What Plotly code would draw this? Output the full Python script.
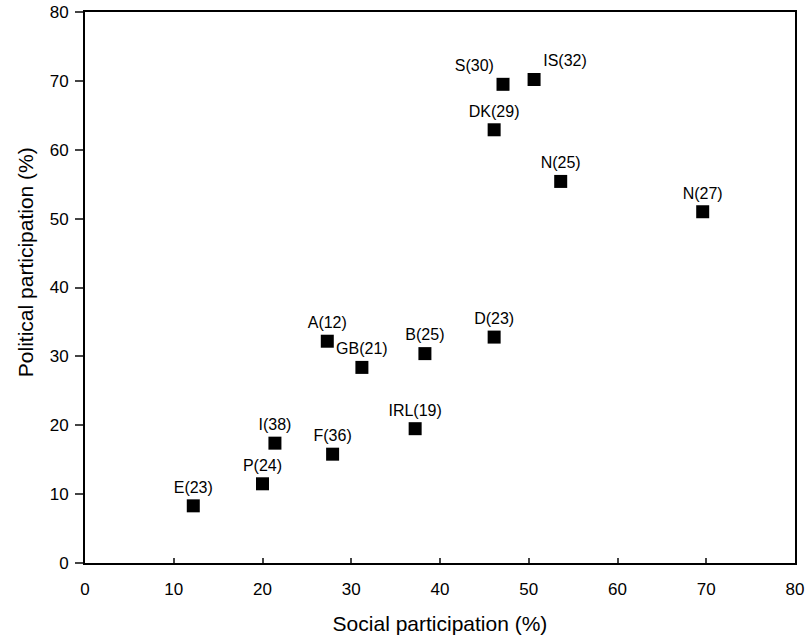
import plotly.graph_objects as go

labels = ["E(23)", "P(24)", "I(38)", "F(36)", "A(12)", "GB(21)", "B(25)", "IRL(19)",
          "D(23)", "DK(29)", "S(30)", "IS(32)", "N(25)", "N(27)"]
social = [12.2, 20.0, 21.4, 27.9, 27.3, 31.2, 38.3, 37.2, 46.1, 46.1, 47.1, 50.6, 53.6, 69.6]
political = [8.3, 11.5, 17.4, 15.8, 32.2, 28.4, 30.4, 19.5, 32.8, 62.9, 69.5, 70.2, 55.4, 51.0]
positions = ["top center"] * 10 + ["top left", "top right", "top center", "top center"]

xticks = [0, 10, 20, 30, 40, 50, 60, 70, 80]
yticks = [0, 10, 20, 30, 40, 50, 60, 70, 80]

fig = go.Figure(go.Scatter(
    x=social, y=political, mode="markers+text", text=labels,
    textposition=positions,
    marker=dict(symbol="square", size=13, color="black"),
    textfont=dict(family="Liberation Sans, Arial", size=16, color="black"),
    cliponaxis=False,
))

fig.update_layout(
    width=807, height=635,
    margin=dict(l=85, r=12, t=12, b=72),
    plot_bgcolor="white", paper_bgcolor="white",
    font=dict(family="Liberation Sans, Arial", size=17, color="black"),
    showlegend=False,
    annotations=[dict(
        text="Political participation (%)", textangle=-90,
        xref="paper", yref="paper", x=0, y=0.546, xshift=-60,
        xanchor="center", yanchor="middle", showarrow=False,
        font=dict(size=21),
    )],
)
fig.update_xaxes(
    range=[0, 80], tickvals=xticks, ticks="inside", ticklen=5, tickwidth=2,
    showline=True, linewidth=2, linecolor="black", mirror=True, showgrid=False,
    zeroline=False, automargin=False, tickfont=dict(size=17), ticklabeloverflow="allow",
    ticklabelstandoff=10,
    title=dict(text="Social participation (%)", font=dict(size=21), standoff=18),
)
fig.update_yaxes(
    range=[0, 80], tickvals=yticks, ticks="outside", ticklen=8, tickwidth=2,
    showline=True, linewidth=2, linecolor="black", mirror=True, showgrid=False,
    zeroline=False, automargin=False, tickfont=dict(size=17), ticklabeloverflow="allow",
    ticklabelstandoff=3,
)

fig.write_html("out.html", config={"displayModeBar": False},
               post_script="document.body.style.margin='0';document.body.style.overflow='hidden';")
